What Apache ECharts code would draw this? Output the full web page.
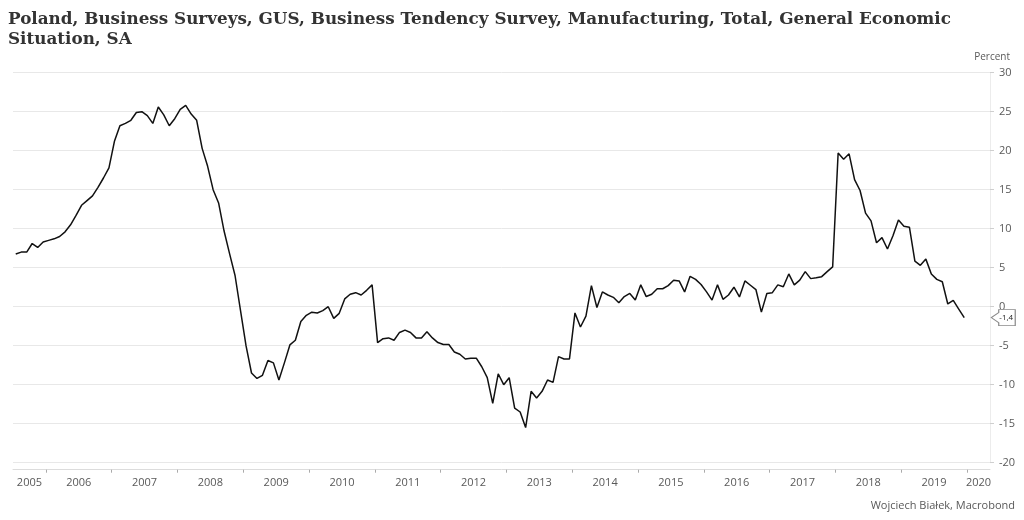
<!DOCTYPE html>
<html><head><meta charset="utf-8">
<script src="https://cdn.jsdelivr.net/npm/echarts@6/dist/echarts.min.js"></script>
<style>html,body{margin:0;padding:0;background:#fff}#c{width:1024px;height:520px}</style>
</head><body><div id="c"></div>
<script>
const titleText = 'Poland, Business Surveys, GUS, Business Tendency Survey, Manufacturing, Total, General Economic\nSituation, SA';
const unitLabel = 'Percent';
const sourceText = 'Wojciech Białek, Macrobond';

// Monthly values (SA), first observation July 2005
const firstYear = 2005;
const firstMonth = 7;
const v2005 = [6.75, 7.0, 7.0, 8.1, 7.6, 8.3];
const v2006 = [8.5, 8.7, 9.0, 9.6, 10.5, 11.7, 13.0, 13.6, 14.2, 15.3, 16.5, 17.8];
const v2007 = [21.2, 23.2, 23.5, 23.9, 24.9, 25.0, 24.5, 23.5, 25.6, 24.6, 23.2, 24.1];
const v2008 = [25.3, 25.8, 24.7, 23.9, 20.3, 18.0, 15.0, 13.3, 9.7, 6.8, 4.0, -0.5];
const v2009 = [-5.0, -8.5, -9.2, -8.8, -6.9, -7.2, -9.4, -7.2, -4.9, -4.3, -1.9, -1.1];
const v2010 = [-0.7, -0.8, -0.5, 0.0, -1.5, -0.85, 1.0, 1.6, 1.8, 1.5, 2.1, 2.8];
const v2011 = [-4.6, -4.1, -4.0, -4.3, -3.3, -3.0, -3.3, -4.0, -4.0, -3.2, -4.0, -4.6];
const v2012 = [-4.85, -4.85, -5.8, -6.1, -6.7, -6.6, -6.6, -7.7, -9.1, -12.4, -8.6, -10.0];
const v2013 = [-9.1, -13.0, -13.5, -15.5, -10.85, -11.7, -10.85, -9.4, -9.7, -6.4, -6.7, -6.7];
const v2014 = [-0.8, -2.6, -1.2, 2.7, -0.1, 1.9, 1.5, 1.2, 0.5, 1.3, 1.7, 0.85];
const v2015 = [2.8, 1.3, 1.6, 2.3, 2.3, 2.7, 3.4, 3.3, 1.9, 3.9, 3.5, 2.85];
const v2016 = [1.9, 0.85, 2.8, 0.95, 1.5, 2.5, 1.25, 3.3, 2.75, 2.2, -0.7, 1.7];
const v2017 = [1.8, 2.8, 2.55, 4.2, 2.8, 3.4, 4.5, 3.6, 3.7, 3.85, 4.5, 5.1];
const v2018 = [19.7, 18.9, 19.6, 16.3, 14.9, 12.0, 11.0, 8.2, 8.85, 7.4, 9.1, 11.1];
const v2019 = [10.3, 10.2, 5.85, 5.3, 6.1, 4.2, 3.5, 3.2, 0.35, 0.8, -0.3, -1.4];

const yearlyValues = [v2005, v2006, v2007, v2008, v2009, v2010, v2011, v2012, v2013, v2014, v2015, v2016, v2017, v2018, v2019];
const yearTicks = [2006, 2007, 2008, 2009, 2010, 2011, 2012, 2013, 2014, 2015, 2016, 2017, 2018, 2019, 2020];
const yearLabels = [2005, 2006, 2007, 2008, 2009, 2010, 2011, 2012, 2013, 2014, 2015, 2016, 2017, 2018, 2019, 2020];
const xMin = 2005.5, xMax = 2020.35;

// Build [decimal-year (mid-month), value] pairs
const data = [];
yearlyValues.forEach((arr, k) => {
  const yr = firstYear + k;
  const m0 = k === 0 ? firstMonth : 1;
  arr.forEach((v, j) => {
    const m = m0 + j;
    data.push([yr + (m - 0.5) / 12, v]);
  });
});
const last = data[data.length - 1];
const labelPositions = yearLabels.map(y => (Math.max(y, xMin) + Math.min(y + 1, xMax)) / 2);

const axisFont = "'Open Sans', 'Noto Sans', sans-serif";
const chart = echarts.init(document.getElementById('c'), null, {renderer: 'canvas'});
chart.setOption({
  animation: false,
  backgroundColor: '#fff',
  title: [
    {text: titleText, left: 3, top: 5,
     textStyle: {fontFamily: "'DejaVu Serif', serif", fontWeight: 'bold', fontSize: 16.8, color: '#333', lineHeight: 20}},
    {text: unitLabel, right: 9, top: 47,
     textStyle: {fontFamily: axisFont, fontWeight: 'normal', fontSize: 10, color: '#595959'}},
    {text: sourceText, right: 4, top: 495,
     textStyle: {fontFamily: axisFont, fontWeight: 'normal', fontSize: 11, color: '#595959'}}
  ],
  grid: {left: 13, right: 34, top: 72.7, bottom: 57.3, containLabel: false},
  xAxis: {
    type: 'value', min: xMin, max: xMax, offset: 7,
    splitLine: {show: false},
    axisLine: {show: true, onZero: false, lineStyle: {color: '#dcdcdc', width: 1}},
    axisTick: {show: true, customValues: yearTicks, length: 3, lineStyle: {color: '#aaa'}},
    axisLabel: {show: true, customValues: labelPositions, margin: 8,
      formatter: v => String(Math.floor(v + 1e-6)),
      fontFamily: axisFont, fontSize: 11, color: '#595959'}
  },
  yAxis: {
    type: 'value', position: 'right', min: -20, max: 30, interval: 5,
    splitLine: {show: true, lineStyle: {color: '#e8e8e8', width: 1}},
    axisLine: {show: true, lineStyle: {color: '#ececec'}},
    axisTick: {show: true, length: 4, lineStyle: {color: '#cfcfcf'}},
    axisLabel: {margin: 9, fontFamily: axisFont, fontSize: 11, color: '#595959'}
  },
  series: [{
    type: 'line', data: data, showSymbol: false, symbol: 'none', clip: false,
    lineStyle: {color: '#111', width: 1.5},
    markPoint: {
      symbol: 'path://M0,8L7.5,3L7.5,0L24,0L24,16L7.5,16L7.5,13Z',
      symbolSize: [24, 16],
      symbolOffset: [39, 0],
      itemStyle: {color: '#fff', borderColor: '#8a8a8a', borderWidth: 1},
      label: {show: true, position: 'inside', offset: [3, 0],
        formatter: p => String(p.value).replace('.', ','),
        fontFamily: axisFont, fontSize: 8, color: '#222'},
      data: [{coord: last, value: last[1]}]
    }
  }]
});
</script>
</body></html>
